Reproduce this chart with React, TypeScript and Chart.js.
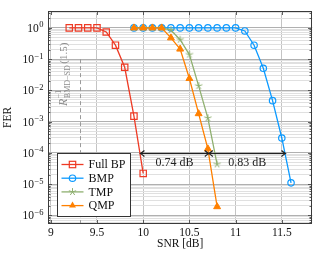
import React, { useEffect, useRef } from 'react';
import { Chart, registerables } from 'chart.js';

Chart.register(...registerables);

// ---- data ----
const fullBpSnr = [9.2, 9.3, 9.4, 9.5, 9.6, 9.7, 9.8, 9.9, 10.0];
const fullBpFer = [1, 1, 1, 1, 0.74, 0.28, 0.055, 0.0015, 2.2e-5];
const bmpSnr = [9.9, 10.0, 10.1, 10.2, 10.3, 10.4, 10.5, 10.6, 10.7, 10.8, 10.9, 11.0, 11.1, 11.2, 11.3, 11.4, 11.5, 11.6];
const bmpFer = [1, 1, 1, 1, 1, 1, 1, 1, 1, 1, 1, 1, 0.8, 0.28, 0.051, 0.0047, 3.0e-4, 1.1e-5];
const tmpSnr = [9.9, 10.0, 10.1, 10.2, 10.3, 10.4, 10.5, 10.6, 10.7, 10.8];
const tmpFer = [1, 1, 1, 1, 0.85, 0.42, 0.14, 0.014, 0.0013, 4.3e-5];
const qmpSnr = [9.9, 10.0, 10.1, 10.2, 10.3, 10.4, 10.5, 10.6, 10.7, 10.8];
const qmpFer = [1, 1, 1, 1, 0.48, 0.21, 0.024, 0.0018, 1.35e-4, 1.9e-6];

const seriesNames = ['Full BP', 'BMP', 'TMP', 'QMP'];
const xTickValues = [9, 9.5, 10, 10.5, 11, 11.5];
const yDecadeExps = [-7, -6, -5, -4, -3, -2, -1, 0];

const gapArrowSnr = [9.97, 10.71, 11.54];
const gapArrowFer = 1e-4;
const gapLabels = ['0.74 dB', '0.83 dB'];

const bmdSnr = 9.32;
const bmdTopFer = 0.1;
const bmdLabelFer = Math.pow(10, -2.5);

// ---- styles ----
const FONT = "'Liberation Serif', 'Times New Roman', serif";
const RED = '#EE3A24';
const BLUE = '#0C9AFF';
const GREEN = '#8FB070';
const ORANGE = '#FF8000';
const COLORS = [RED, BLUE, GREEN, ORANGE];
const STYLES = ['rect', 'circle', 'star', 'triangle'];

const isDecade = (v: number) => {
  const l = Math.log10(v);
  return Math.abs(l - Math.round(l)) < 1e-6;
};

function makeStar(color: string) {
  const c = document.createElement('canvas');
  c.width = 10;
  c.height = 10;
  const g = c.getContext('2d')!;
  g.strokeStyle = color;
  g.lineWidth = 1;
  g.beginPath();
  for (let k = 0; k < 5; k++) {
    const a = -Math.PI / 2 + (k * 2 * Math.PI) / 5;
    g.moveTo(5, 5);
    g.lineTo(5 + 3.8 * Math.cos(a), 5 + 3.8 * Math.sin(a));
  }
  g.stroke();
  return c;
}

function drawMarker(ctx: CanvasRenderingContext2D, style: string, x: number, y: number, color: string) {
  ctx.save();
  ctx.strokeStyle = color;
  ctx.fillStyle = color;
  ctx.lineWidth = 1.2;
  ctx.setLineDash([]);
  if (style === 'rect') {
    ctx.strokeRect(x - 3.2, y - 3.2, 6.4, 6.4);
  } else if (style === 'circle') {
    ctx.beginPath();
    ctx.arc(x, y, 3.2, 0, Math.PI * 2);
    ctx.stroke();
  } else if (style === 'star') {
    ctx.lineWidth = 1;
    ctx.beginPath();
    for (let k = 0; k < 5; k++) {
      const a = -Math.PI / 2 + (k * 2 * Math.PI) / 5;
      ctx.moveTo(x, y);
      ctx.lineTo(x + 3.8 * Math.cos(a), y + 3.8 * Math.sin(a));
    }
    ctx.stroke();
  } else {
    const r = 4;
    ctx.beginPath();
    ctx.moveTo(x, y - r);
    ctx.lineTo(x + r * 0.866, y + r * 0.5);
    ctx.lineTo(x - r * 0.866, y + r * 0.5);
    ctx.closePath();
    ctx.fill();
  }
  ctx.restore();
}

const annotations = {
  id: 'annotations',
  beforeDatasetsDraw(chart: any) {
    const { ctx, chartArea, scales } = chart;
    const xs = scales.x;
    const ys = scales.y;
    const xp = Math.round(xs.getPixelForValue(bmdSnr)) + 0.5;
    ctx.save();
    ctx.strokeStyle = '#9a9a9a';
    ctx.lineWidth = 1;
    ctx.setLineDash([4, 3]);
    ctx.beginPath();
    ctx.moveTo(xp, ys.getPixelForValue(bmdTopFer));
    ctx.lineTo(xp, chartArea.bottom);
    ctx.stroke();
    ctx.setLineDash([]);
    // rotated label
    ctx.translate(xp - 14, ys.getPixelForValue(bmdLabelFer));
    ctx.rotate(-Math.PI / 2);
    ctx.fillStyle = '#8c8c8c';
    ctx.textBaseline = 'alphabetic';
    ctx.textAlign = 'left';
    ctx.font = `italic 12px ${FONT}`;
    ctx.fillText('R', 0, 0);
    const wR = ctx.measureText('R').width + 0.5;
    ctx.font = `8px ${FONT}`;
    ctx.fillText('−1', wR, -5.5);
    ctx.fillText('BMD−SD', wR, 3.5);
    const wS = Math.max(ctx.measureText('−1').width, ctx.measureText('BMD−SD').width);
    ctx.font = `11px ${FONT}`;
    ctx.fillText('(1.5)', wR + wS + 1.5, 0);
    ctx.restore();
  },
  afterDatasetsDraw(chart: any) {
    const { ctx, chartArea, scales } = chart;
    const xs = scales.x;
    const ys = scales.y;
    ctx.save();
    // gap arrows
    const ay = Math.round(ys.getPixelForValue(gapArrowFer)) + 0.5;
    const px = gapArrowSnr.map((v) => xs.getPixelForValue(v));
    ctx.strokeStyle = '#222';
    ctx.lineWidth = 1.2;
    ctx.beginPath();
    ctx.moveTo(px[0], ay);
    ctx.lineTo(px[px.length - 1], ay);
    ctx.stroke();
    const head = (x: number, dir: number) => {
      ctx.beginPath();
      ctx.moveTo(x - dir * 4, ay - 3);
      ctx.quadraticCurveTo(x - dir * 1.5, ay - 0.8, x, ay);
      ctx.quadraticCurveTo(x - dir * 1.5, ay + 0.8, x - dir * 4, ay + 3);
      ctx.stroke();
    };
    for (let i = 0; i < px.length - 1; i++) {
      head(px[i], -1);
      head(px[i + 1], 1);
    }
    ctx.fillStyle = '#222';
    ctx.font = `12px ${FONT}`;
    ctx.textAlign = 'center';
    ctx.textBaseline = 'middle';
    gapLabels.forEach((t, i) => {
      ctx.fillText(t, (px[i] + px[i + 1]) / 2, ay + 9);
    });

    // frame
    const L = Math.round(chartArea.left) + 0.5;
    const R = Math.round(chartArea.right) - 0.5;
    const T = Math.round(chartArea.top) + 0.5;
    const B = Math.round(chartArea.bottom) - 0.5;
    ctx.strokeStyle = '#3a3a3a';
    ctx.lineWidth = 1;
    ctx.strokeRect(L, T, R - L, B - T);
    // tick marks inward
    ctx.lineWidth = 0.8;
    ctx.beginPath();
    xs.ticks.forEach((t: any) => {
      const p = Math.round(xs.getPixelForValue(t.value)) + 0.5;
      ctx.moveTo(p, B);
      ctx.lineTo(p, B - 3.5);
      ctx.moveTo(p, T);
      ctx.lineTo(p, T + 3.5);
    });
    ys.ticks.forEach((t: any) => {
      const p = Math.round(ys.getPixelForValue(t.value)) + 0.5;
      const len = isDecade(t.value) ? 3.5 : 2;
      ctx.moveTo(L, p);
      ctx.lineTo(L + len, p);
      ctx.moveTo(R, p);
      ctx.lineTo(R - len, p);
    });
    ctx.stroke();

    // y tick labels 10^e with raised exponent
    ctx.fillStyle = '#111';
    ctx.textAlign = 'right';
    ctx.textBaseline = 'alphabetic';
    ys.ticks.forEach((t: any) => {
      if (!isDecade(t.value)) return;
      const e = Math.round(Math.log10(t.value));
      const p = ys.getPixelForValue(t.value);
      const xr = L - 5;
      const expText = e < 0 ? '−' + String(-e) : String(e);
      ctx.font = `8.5px ${FONT}`;
      const we = ctx.measureText(expText).width;
      ctx.fillText(expText, xr, p - 0.5);
      ctx.font = `11.5px ${FONT}`;
      ctx.fillText('10', xr - we - 0.5, p + 4);
    });

    // legend
    const lx = Math.round(chartArea.left + 9) + 0.5;
    const lh = 63;
    const ly = Math.round(chartArea.bottom - 8 - lh) + 0.5;
    const lw = 73;
    ctx.fillStyle = '#ffffff';
    ctx.fillRect(lx, ly, lw, lh);
    ctx.strokeStyle = '#333';
    ctx.lineWidth = 1;
    ctx.strokeRect(lx, ly, lw, lh);
    ctx.font = `12px ${FONT}`;
    ctx.textAlign = 'left';
    ctx.textBaseline = 'middle';
    seriesNames.forEach((name, i) => {
      const cy = ly + 11 + i * 13.7;
      ctx.strokeStyle = COLORS[i];
      ctx.lineWidth = 1.3;
      ctx.beginPath();
      ctx.moveTo(lx + 4, cy);
      ctx.lineTo(lx + 26, cy);
      ctx.stroke();
      drawMarker(ctx, STYLES[i], lx + 15, cy, COLORS[i]);
      ctx.fillStyle = '#111';
      ctx.fillText(name, lx + 31, cy + 0.5);
    });
    ctx.restore();
  },
};

export default function App() {
  const ref = useRef<HTMLCanvasElement>(null);
  useEffect(() => {
    document.body.style.margin = '0';
    const canvas = ref.current!;
    const star = makeStar(GREEN);
    const toPts = (xs: number[], ys: number[]) => xs.map((x, i) => ({ x, y: ys[i] }));
    const chart = new Chart(canvas, {
      type: 'line',
      data: {
        datasets: [
          {
            label: seriesNames[0],
            data: toPts(fullBpSnr, fullBpFer),
            borderColor: RED,
            borderWidth: 1.3,
            pointStyle: 'rect',
            pointRadius: 4.5,
            pointBorderWidth: 1.2,
            pointBorderColor: RED,
            pointBackgroundColor: 'rgba(0,0,0,0)',
            order: 3,
          },
          {
            label: seriesNames[1],
            data: toPts(bmpSnr, bmpFer),
            borderColor: BLUE,
            borderWidth: 1.3,
            pointStyle: 'circle',
            pointRadius: 3.2,
            pointBorderWidth: 1.2,
            pointBorderColor: BLUE,
            pointBackgroundColor: 'rgba(0,0,0,0)',
            order: 2,
          },
          {
            label: seriesNames[2],
            data: toPts(tmpSnr, tmpFer),
            borderColor: GREEN,
            borderWidth: 1.3,
            pointStyle: star as any,
            pointRadius: 4,
            order: 1,
          },
          {
            label: seriesNames[3],
            data: toPts(qmpSnr, qmpFer),
            borderColor: ORANGE,
            borderWidth: 1.3,
            pointStyle: 'triangle',
            pointRadius: 4,
            pointBorderWidth: 1,
            pointBorderColor: ORANGE,
            pointBackgroundColor: ORANGE,
            order: 0,
          },
        ],
      } as any,
      options: {
        animation: false,
        responsive: false,
        events: [],
        layout: { padding: { top: 1, right: 1, left: 0, bottom: 0 } },
        plugins: { legend: { display: false }, tooltip: { enabled: false } },
        scales: {
          x: {
            type: 'linear',
            min: 8.97,
            max: 11.83,
            afterBuildTicks: (s: any) => {
              s.ticks = xTickValues.map((v) => ({ value: v }));
            },
            afterFit: (s: any) => {
              s.height = 32;
            },
            ticks: {
              autoSkip: false,
              maxRotation: 0,
              padding: 2,
              color: '#111',
              font: { family: FONT, size: 11.5 },
              callback: (v: any) => String(v),
            },
            grid: { color: '#c4c4c4', drawTicks: false, lineWidth: 1 },
            border: { display: false },
            title: {
              display: true,
              text: 'SNR [dB]',
              color: '#111',
              font: { family: FONT, size: 11.5 },
              padding: { top: 0, bottom: 5 },
            },
          },
          y: {
            type: 'logarithmic',
            min: Math.pow(10, -6.275),
            max: Math.pow(10, 0.544),
            afterBuildTicks: (s: any) => {
              const t: any[] = [];
              yDecadeExps.forEach((e) => {
                for (let k = 1; k <= 9; k++) {
                  const v = k * Math.pow(10, e);
                  if (v >= s.min && v <= s.max) t.push({ value: v });
                }
              });
              s.ticks = t;
            },
            afterFit: (s: any) => {
              s.width = 48;
            },
            ticks: {
              autoSkip: false,
              padding: 4,
              color: '#111',
              font: { family: FONT, size: 11.5 },
              callback: () => '',
            },
            grid: {
              drawTicks: false,
              color: (c: any) => (c.tick && isDecade(c.tick.value) ? '#b0b0b0' : '#e0e0e0'),
              lineWidth: 1,
            },
            border: { display: false },
            title: {
              display: true,
              text: 'FER',
              color: '#111',
              font: { family: FONT, size: 11.5 },
              padding: { top: 1, bottom: 0 },
            },
          },
        },
      } as any,
      plugins: [annotations],
    });
    return () => chart.destroy();
  }, []);
  return <canvas ref={ref} width={318} height={256} style={{ display: 'block' }} />;
}
